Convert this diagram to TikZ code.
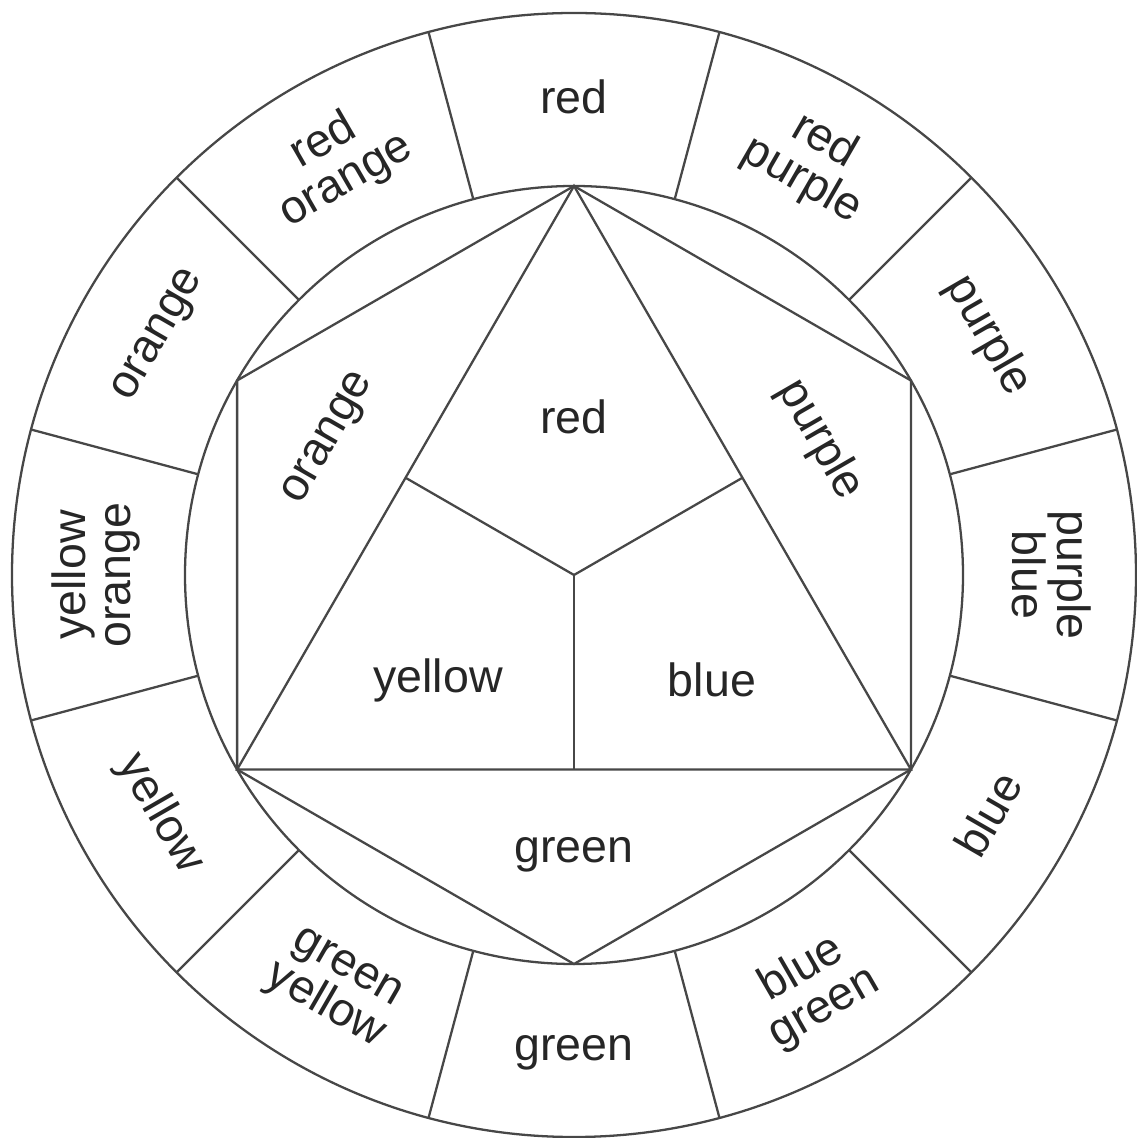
\documentclass[tikz,border=0pt]{standalone}
\usepackage{fontspec}
\setmainfont{Liberation Sans}
\usetikzlibrary{calc}

\begin{document}
\begin{tikzpicture}[x=0.02cm, y=0.02cm, line width=1.3pt, color=black!72, every node/.style={font=\fontsize{26.5}{25.5}\selectfont, text=black!85, align=center, inner sep=0pt}]
	\useasboundingbox (-574,-563) rectangle (562,575);
	\coordinate (O) at (0,0);
	% outer ring with twelve fields
	\draw (O) circle[radius=562];
	\draw (O) circle[radius=389];
	\foreach \a in {15,45,...,345}
		\draw (\a:389) -- (\a:562);
	% hexagon, triangle and the three primaries
	\coordinate (T) at (90:389);
	\coordinate (UR) at (30:389);
	\coordinate (LR) at (-30:389);
	\coordinate (B) at (-90:389);
	\coordinate (LL) at (-150:389);
	\coordinate (UL) at (150:389);
	\draw (T) -- (UR) -- (LR) -- (B) -- (LL) -- (UL) -- cycle;
	\draw (T) -- (LL) -- (LR) -- cycle;
	\draw (O) -- ($(T)!0.5!(LL)$);
	\draw (O) -- ($(T)!0.5!(LR)$);
	\draw (O) -- ($(LL)!0.5!(LR)$);
	% ring labels: angle / rotation / text
	\foreach \a/\r/\t [count=\i] in {90/0/red, 60/-30/{red\\purple}, 30/-60/purple, 0/-90/{purple\\blue}, -30/60/blue, -60/30/{blue\\green}, -90/0/green, -120/-30/{green\\yellow}, -150/-60/yellow, 180/90/{yellow\\orange}, 150/60/orange, 120/30/{red\\orange}}
		\node[rotate=\r] (ring-\i) at (\a:478) {\t};
	% inner labels
	\node (in-red) at (0,158) {red};
	\node (in-yellow) at (-136,-105) {yellow};
	\node (in-blue) at (138,-105) {blue};
	\node (in-green) at (0,-280) {green};
	\node[rotate=60] (in-orange) at (-244,136) {orange};
	\node[rotate=-60] (in-purple) at (246,135) {purple};
\end{tikzpicture}
\end{document}
